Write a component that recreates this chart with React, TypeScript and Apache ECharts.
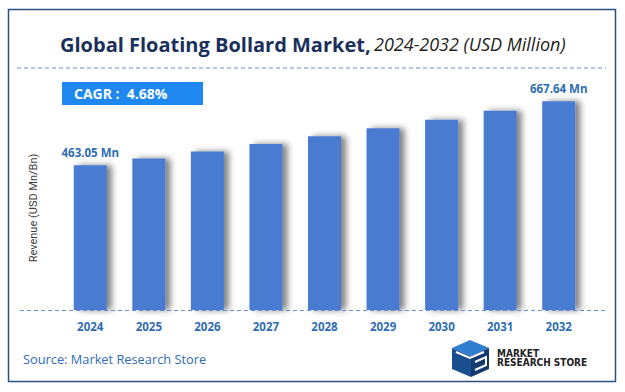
import React, { useEffect, useRef } from "react";
import * as echarts from "echarts";

const years = ["2024", "2025", "2026", "2027", "2028", "2029", "2030", "2031", "2032"];
const revenue = [463.05, 484.7, 507.4, 531.1, 556.0, 582.0, 609.2, 637.7, 667.64];
const labelledIdx = [0, 8];
const titleMain = "Global Floating Bollard Market,";
const titleSub = "2024-2032 (USD Million)";
const cagrText = "CAGR :  4.68%";
const sourceText = "Source: Market Research Store";
const yName = "Revenue (USD Mn/Bn)";

const FONT = "'Open Sans', 'Noto Sans', sans-serif";

export default function App() {
  const ref = useRef<HTMLDivElement>(null);
  useEffect(() => {
    if (!ref.current) return;
    const chart = echarts.init(ref.current, null, { renderer: "svg" });
    const blue = "#4a7bd0";
    chart.setOption({
      animation: false,
      backgroundColor: "#ffffff",
      grid: { left: 61, right: 37, top: 60, bottom: 82 },
      xAxis: {
        type: "category",
        data: years,
        axisLine: { show: false },
        axisTick: { show: false },
        axisLabel: { color: "#2f6db3", fontWeight: "bold", fontSize: 11.5, fontFamily: FONT, margin: 10 },
      },
      yAxis: {
        type: "value",
        min: 0,
        max: 800,
        axisLine: { show: false },
        axisTick: { show: false },
        axisLabel: { show: false },
        splitLine: { show: false },
      },
      series: [
        {
          type: "bar",
          barWidth: 33,
          data: revenue.map((v, i) => ({
            value: v,
            label: { show: labelledIdx.includes(i) },
          })),
          itemStyle: {
            color: blue,
            shadowColor: "rgba(0,0,0,0.5)",
            shadowBlur: 6,
            shadowOffsetX: 5,
            shadowOffsetY: 0,
          },
          label: {
            show: false,
            position: "top",
            distance: 7,
            formatter: "{c} Mn",
            color: "#2f6db3",
            fontWeight: "bold",
            fontSize: 11.5,
            fontFamily: FONT,
          },
        },
      ],
      graphic: [
        {
          type: "rect",
          shape: { x: 8.5, y: 9.5, width: 607, height: 372 },
          style: { fill: "none", stroke: "#2a5080", lineWidth: 1.5 },
          silent: true,
        },
        {
          type: "text",
          x: 60,
          y: 44,
          style: {
            text: "{a|" + titleMain + "} {b|" + titleSub + "}",
            verticalAlign: "middle",
            rich: {
              a: { fontSize: 20, fontWeight: "bold", fill: "#1b2f5c", fontFamily: FONT },
              b: { fontSize: 18, fontStyle: "italic", fill: "#222222", fontFamily: FONT },
            },
          },
        },
        {
          type: "line",
          shape: { x1: 17, y1: 68, x2: 606, y2: 68 },
          style: { stroke: "#6a8fd0", lineWidth: 1, lineDash: [4, 3] },
        },
        {
          type: "line",
          shape: { x1: 20, y1: 310.5, x2: 606, y2: 310.5 },
          style: { stroke: "#6a8fd0", lineWidth: 1, lineDash: [4, 3] },
          z: 10,
        },
        {
          type: "text",
          x: 33,
          y: 208,
          rotation: Math.PI / 2,
          style: {
            text: yName,
            fill: "#404040",
            fontSize: 11,
            fontFamily: "Roboto, sans-serif",
            align: "center",
            verticalAlign: "middle",
          },
        },
        {
          type: "rect",
          shape: { x: 62, y: 82, width: 141, height: 23 },
          style: { fill: "#1e88f0" },
        },
        {
          type: "text",
          x: 74,
          y: 93.5,
          style: {
            text: cagrText,
            fill: "#ffffff",
            fontSize: 14,
            fontWeight: "bold",
            fontFamily: FONT,
            verticalAlign: "middle",
          },
        },
        {
          type: "text",
          x: 23,
          y: 359,
          style: {
            text: sourceText,
            fill: "#2f6db3",
            fontSize: 12.8,
            fontFamily: FONT,
            verticalAlign: "middle",
          },
        },
        // logo icon
        {
          type: "polygon",
          shape: { points: [[452, 348], [470, 340], [489, 348], [471, 356]] },
          style: { fill: "#2f7fd0" },
        },
        {
          type: "polygon",
          shape: { points: [[452, 348], [471, 356], [471, 377], [452, 369]] },
          style: { fill: "#1a4f8f" },
        },
        {
          type: "polygon",
          shape: { points: [[471, 356], [489, 348], [489, 369], [471, 377]] },
          style: { fill: "#123a6e" },
        },
        {
          type: "polyline",
          shape: { points: [[456, 352], [470, 358], [484, 352]] },
          style: { stroke: "#ffffff", lineWidth: 2, fill: "none" },
        },
        {
          type: "polyline",
          shape: { points: [[475, 362], [486, 357], [486, 365], [475, 370]] },
          style: { stroke: "#ffffff", lineWidth: 2, fill: "none" },
        },
        {
          type: "text",
          x: 497,
          y: 353,
          style: {
            text: "MARKET",
            fill: "#222222",
            fontSize: 10,
            fontWeight: "bold",
            fontFamily: "'DejaVu Sans Condensed', 'DejaVu Sans', sans-serif",
            verticalAlign: "middle",
          },
        },
        {
          type: "text",
          x: 497,
          y: 362.5,
          style: {
            text: "RESEARCH STORE",
            fill: "#222222",
            fontSize: 10,
            fontWeight: "bold",
            fontFamily: "'DejaVu Sans Condensed', 'DejaVu Sans', sans-serif",
            verticalAlign: "middle",
          },
        },
      ],
    });
    return () => chart.dispose();
  }, []);
  return (
    <div
      ref={ref}
      style={{ position: "fixed", left: 0, top: 0, width: 625, height: 392 }}
    />
  );
}
